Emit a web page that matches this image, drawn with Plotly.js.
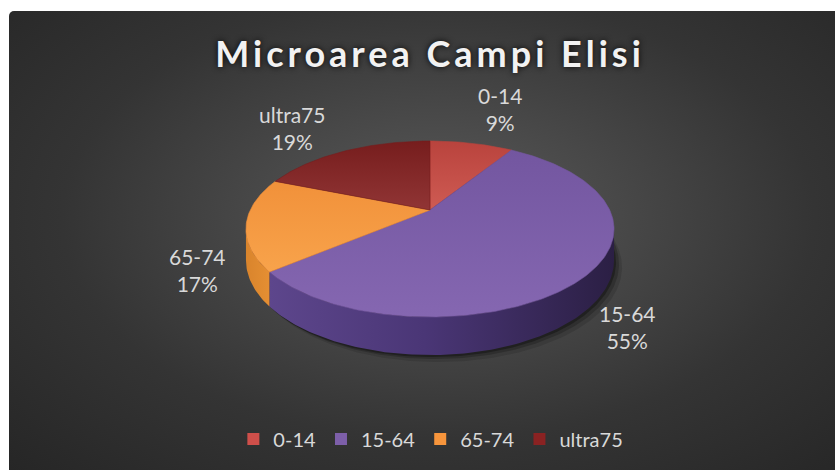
<!DOCTYPE html>
<html><head><meta charset="utf-8">
<script src="https://cdn.plot.ly/plotly-3.0.1.min.js"></script>
<style>
html,body{margin:0;padding:0;background:#ffffff;overflow:hidden;}
#bg{position:absolute;left:9px;top:11px;width:826px;height:459px;border-top-left-radius:5px;
background:radial-gradient(ellipse farthest-corner at 52% 45%, #5a5a5a 0%, #484848 30%, #343434 62%, #262626 100%);}
#chart{position:absolute;left:0;top:0;width:835px;height:470px;}
#chart .gtitle{letter-spacing:4px;}
</style></head><body>
<div id="bg"></div><div id="chart"></div>
<script>
// ---- data ----
const categories = ['0-14', '15-64', '65-74', 'ultra75'];
const shares = [9, 55, 17, 19];

// ---- styles ----
const topColors = [
  [[0, '#cf5b53'], [1, '#b9433d']],
  [[0, '#8567b1'], [1, '#7356a0']],
  [[0, '#f8a34b'], [1, '#f1913a']],
  [[0, '#913535'], [1, '#761d1d']]
];
const sideColors = [
  [[0, '#a8322d'], [1, '#7d221e']],
  [[0, '#5d468c'], [0.45, '#4a3676'], [1, '#2b1f44']],
  [[0, '#d9842c'], [1, '#e58f33']],
  [[0, '#5e1515'], [1, '#4c1010']]
];
const legendColors = ['#cf4f4a', '#7d5fa9', '#f7953c', '#8a2222'];
const labelPos = [[500, 109], [627, 327], [197, 270], [292, 128]];

// ---- geometry of the tilted pie (pixel space) ----
const G = {cx: 430, cy: 210, R: 179.7, H: 83.9, k: 0.216, T: 29.8};
function proj(phiDeg, r, z) {
  const p = phiDeg * Math.PI / 180;
  const u = r * Math.sin(p), v = r * Math.cos(p);
  const d = 1 + G.k * v;
  return [G.cx + G.R * u / d, G.cy + (-G.H * v + G.T * z) / d];
}
function arc(a, b, z) {
  const pts = [];
  const n = Math.max(2, Math.ceil(Math.abs(b - a)));
  for (let i = 0; i <= n; i++) pts.push(proj(a + (b - a) * i / n, 1, z));
  return pts;
}

const total = shares.reduce((s, v) => s + v, 0);
const bounds = [];
let acc = 0;
shares.forEach(v => { const a = acc / total * 360; acc += v; bounds.push([a, acc / total * 360]); });

const phiRight = Math.acos(-G.k) * 180 / Math.PI;
const phiLeft = 360 - phiRight;

const traces = [];

// soft shadow under the pie
[[8, 7, 0.12], [5, 4, 0.2], [2, 2, 0.3]].forEach(([dx, dy, op]) => {
  const pts = arc(0, 360, 1);
  traces.push({type: 'scatter', mode: 'lines', x: pts.map(p => p[0] + dx), y: pts.map(p => p[1] + dy),
    fill: 'toself', fillcolor: 'rgba(0,0,0,' + op + ')', line: {width: 0}, hoverinfo: 'skip', showlegend: false});
});

// side walls (front half only)
bounds.forEach(([a, b], i) => {
  const s = Math.max(a, phiRight), e = Math.min(b, phiLeft);
  if (e <= s) return;
  const pts = arc(s, e, 0).concat(arc(e, s, 1));
  traces.push({type: 'scatter', mode: 'lines', x: pts.map(p => p[0]), y: pts.map(p => p[1]),
    fill: 'toself', fillgradient: {type: 'horizontal', colorscale: sideColors[i]},
    line: {width: 0}, hoverinfo: 'skip', showlegend: false});
});

// top faces
bounds.forEach(([a, b], i) => {
  const c = proj(0, 0, 0);
  const pts = [c].concat(arc(a, b, 0)).concat([c]);
  traces.push({type: 'scatter', mode: 'lines', x: pts.map(p => p[0]), y: pts.map(p => p[1]),
    fill: 'toself', fillgradient: {type: 'vertical', colorscale: topColors[i]},
    line: {width: 0.6, color: topColors[i][1][1]}, hoverinfo: 'skip', showlegend: false,
    name: categories[i]});
});

// legend entries
categories.forEach((c, i) => {
  traces.push({type: 'scatter', mode: 'markers', x: [null], y: [null], name: c,
    marker: {symbol: 'square', size: 12, color: legendColors[i]}, hoverinfo: 'skip'});
});

const annotations = categories.map((c, i) => ({
  xref: 'x', yref: 'y', x: labelPos[i][0], y: labelPos[i][1], showarrow: false,
  xanchor: 'center', yanchor: 'middle',
  text: c + '<br>' + Math.round(shares[i] / total * 100) + '%',
  font: {family: 'Lato, sans-serif', size: 21, color: '#d9d9d9'}
}));

const layout = {
  width: 835, height: 470,
  margin: {l: 0, r: 0, t: 0, b: 0},
  paper_bgcolor: 'rgba(0,0,0,0)', plot_bgcolor: 'rgba(0,0,0,0)',
  xaxis: {range: [0, 835], visible: false, fixedrange: true},
  yaxis: {range: [470, 0], visible: false, fixedrange: true},
  title: {text: 'Microarea Campi Elisi', x: 0.515, xanchor: 'center', y: 0.885, yanchor: 'middle',
    font: {family: 'Lato, sans-serif', size: 36, weight: 700, color: '#f2f2f2',
      shadow: '0px 0px 6px rgba(0,0,0,0.9)'}},
  showlegend: true,
  legend: {orientation: 'h', x: 0.516, xanchor: 'center', y: 0.066, yanchor: 'middle',
    font: {family: 'Lato, sans-serif', size: 20, color: '#d9d9d9'}, bgcolor: 'rgba(0,0,0,0)',
    itemclick: false, itemdoubleclick: false},
  annotations: annotations
};

Plotly.newPlot('chart', traces, layout, {staticPlot: true, displayModeBar: false});
</script>
</body></html>
